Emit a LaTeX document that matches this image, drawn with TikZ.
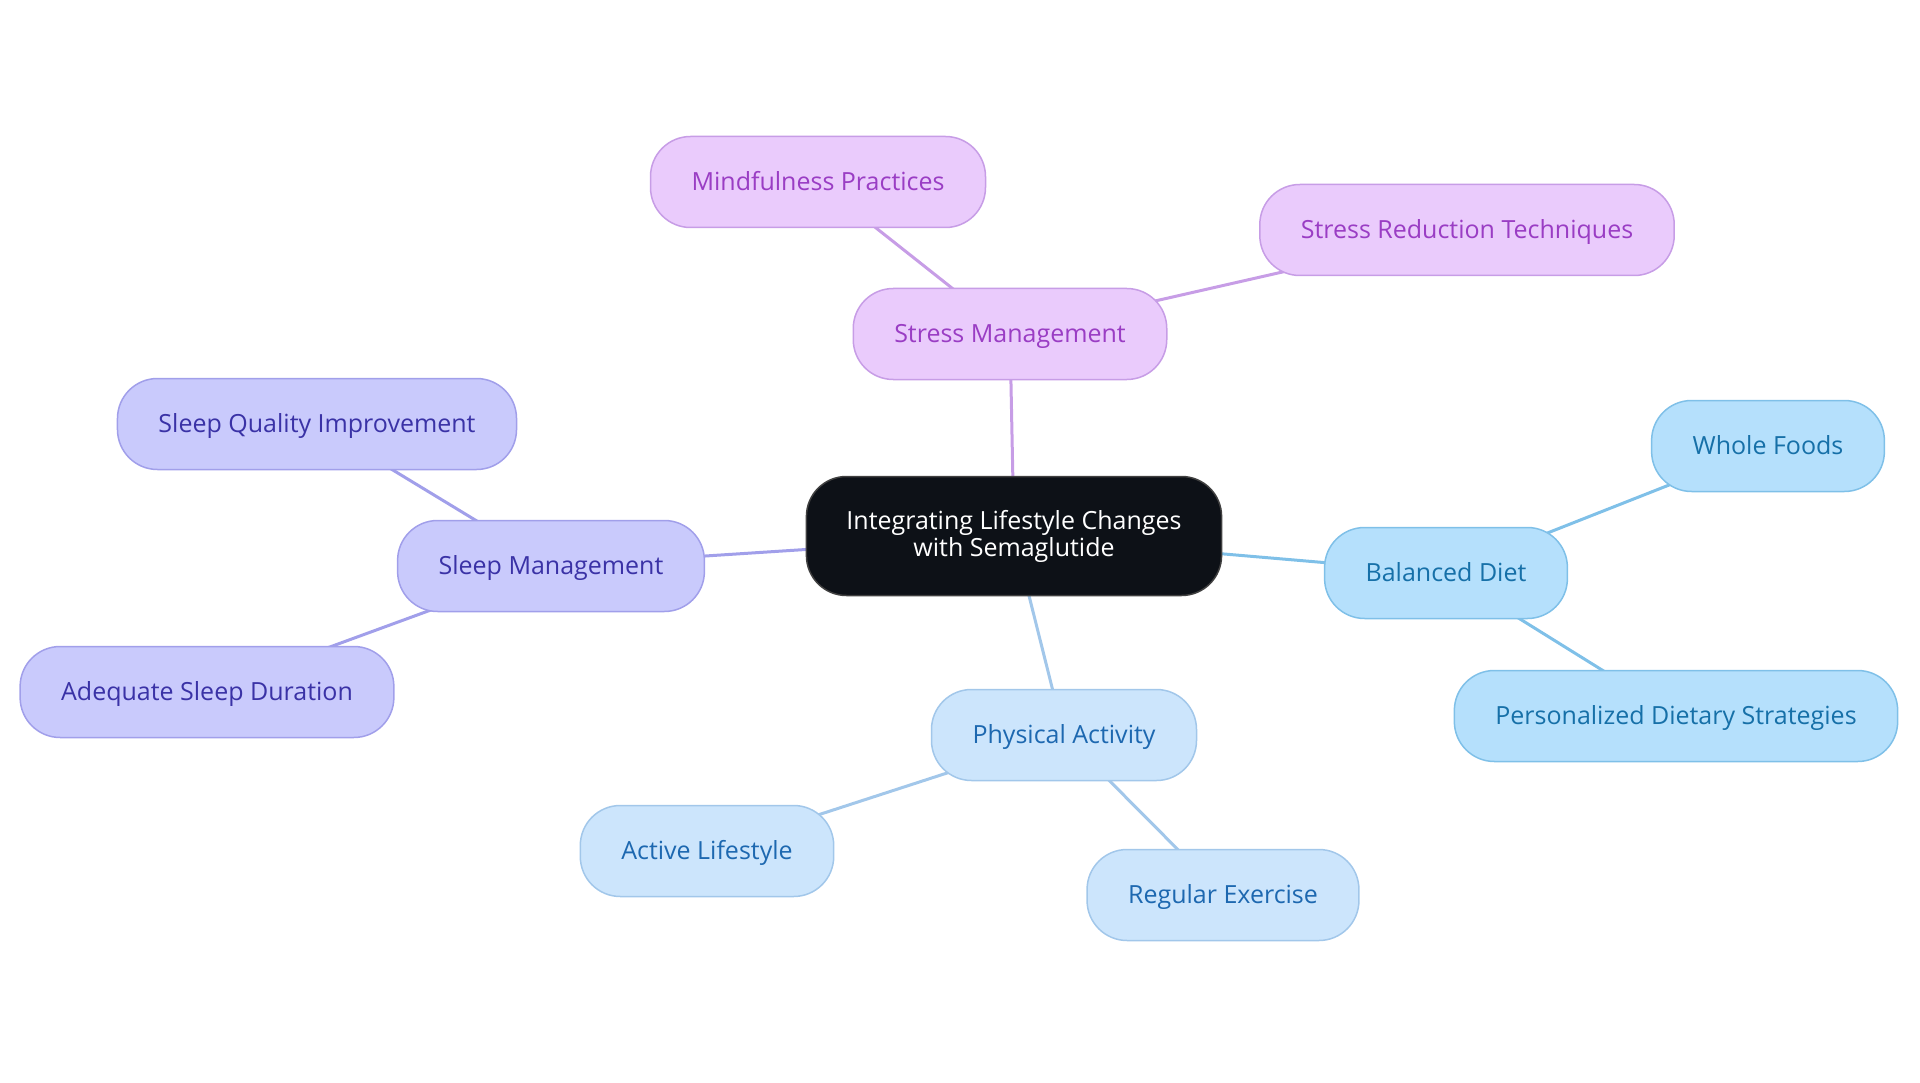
\documentclass[tikz,border=0pt]{standalone}
\usepackage{fontspec}
\setmainfont{Open Sans}
\usepackage{tikz}

\definecolor{rootfill}{HTML}{0D1117}
\definecolor{stressfill}{HTML}{EACBFC}
\definecolor{stressline}{HTML}{C79DE6}
\definecolor{stresstext}{HTML}{9A3DC4}
\definecolor{sleepfill}{HTML}{C9CAFC}
\definecolor{sleepline}{HTML}{A19FEA}
\definecolor{sleeptext}{HTML}{3A32A6}
\definecolor{dietfill}{HTML}{B5E0FC}
\definecolor{dietline}{HTML}{7FC0E8}
\definecolor{diettext}{HTML}{1670A8}
\definecolor{actfill}{HTML}{CCE5FC}
\definecolor{actline}{HTML}{A2C7EA}
\definecolor{acttext}{HTML}{1D68B0}

\pgfdeclarelayer{background}
\pgfsetlayers{background,main}

\tikzset{
  topic/.style={draw, line width=1.5pt, rounded corners=40pt, minimum height=91pt,
    inner xsep=41pt, inner ysep=0pt, text height=19pt, text depth=2pt,
    font=\fontsize{25}{27}\selectfont},
  root/.style={topic, draw=black!75, fill=rootfill, text=white, minimum height=119pt,
    inner xsep=40pt, text height=, text depth=, align=center},
  stress/.style={topic, draw=stressline, fill=stressfill, text=stresstext},
  sleep/.style={topic, draw=sleepline, fill=sleepfill, text=sleeptext},
  diet/.style={topic, draw=dietline, fill=dietfill, text=diettext},
  act/.style={topic, draw=actline, fill=actfill, text=acttext},
  link/.style={line width=3pt}
}

\begin{document}
\begin{tikzpicture}[x=1pt, y=-1pt]

\useasboundingbox (0,0) rectangle (1920,1083);

% central node
\node[root] (root) at (1014, 536) {Integrating Lifestyle Changes\\with Semaglutide};

% stress branch
\node[stress] (stress) at (1010, 334) {Stress Management};
\node[stress] (mindful) at (818, 182) {Mindfulness Practices};
\node[stress] (reduce) at (1467, 230) {Stress Reduction Techniques};

% sleep branch
\node[sleep] (sleep) at (551, 566) {Sleep Management};
\node[sleep] (quality) at (317, 424) {Sleep Quality Improvement};
\node[sleep] (duration) at (207, 692) {Adequate Sleep Duration};

% diet branch
\node[diet] (diet) at (1446, 573) {Balanced Diet};
\node[diet] (whole) at (1768, 446) {Whole Foods};
\node[diet] (personal) at (1676, 716) {Personalized Dietary Strategies};

% activity branch
\node[act] (activity) at (1064, 735) {Physical Activity};
\node[act] (active) at (707, 851) {Active Lifestyle};
\node[act] (exercise) at (1223, 895) {Regular Exercise};

% links behind the nodes
\begin{pgfonlayer}{background}
\draw[link, stressline] (root.center) -- (stress.center);
\draw[link, stressline] (stress.center) -- (mindful.center);
\draw[link, stressline] (stress.center) -- (reduce.center);

\draw[link, sleepline] (root.center) -- (sleep.center);
\draw[link, sleepline] (sleep.center) -- (quality.center);
\draw[link, sleepline] (sleep.center) -- (duration.center);

\draw[link, dietline] (root.center) -- (diet.center);
\draw[link, dietline] (diet.center) -- (whole.center);
\draw[link, dietline] (diet.center) -- (personal.center);

\draw[link, actline] (root.center) -- (activity.center);
\draw[link, actline] (activity.center) -- (active.center);
\draw[link, actline] (activity.center) -- (exercise.center);
\end{pgfonlayer}

\end{tikzpicture}
\end{document}
